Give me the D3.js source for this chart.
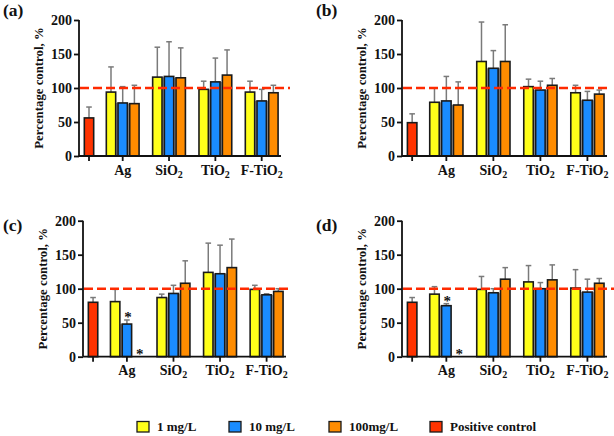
<!DOCTYPE html>
<html><head><meta charset="utf-8">
<script src="https://cdn.jsdelivr.net/npm/d3@7"></script>
<style>
body{margin:0;background:#fff}svg{display:block}
svg text{font-family:"Liberation Serif","Times New Roman",Times,serif !important;font-weight:bold}
</style>
</head><body>
<script>
const groups = ["Ag","SiO2","TiO2","F-TiO2"];
const series = ["1 mg/L","10 mg/L","100mg/L"];
const controlLabel = "Positive control";
const yTicks = [0,50,100,150,200];
const refLine = 100;

const aMeans = [[94,78,77],[116,117,115],[98,109,119],[94,81,93]];
const aSD    = [[37,24,27],[44,51,44],[12,35,37],[16,17,11]];
const aCtrl = 56, aCtrlSD = 16;

const bMeans = [[79,81,75],[139,129,139],[102,97,104],[93,82,91]];
const bSD    = [[21,36,34],[58,26,54],[11,13,10],[11,13,6]];
const bCtrl = 49, bCtrlSD = 13;

const cMeans = [[81,48,0],[87,93,108],[124,122,131],[99,91,96]];
const cSD    = [[18,6,0],[5,12,33],[43,42,42],[6,1.5,4]];
const cCtrl = 80, cCtrlSD = 7;
const cSig = [[0,1],[0,2]];

const dMeans = [[92,75,0],[99,94,114],[110,100,113],[101,95,108]];
const dSD    = [[11,3,0],[19,6,17],[24,9,22],[27,19,7]];
const dCtrl = 80, dCtrlSD = 7;
const dSig = [[0,1],[0,2]];

const colors = ["#ffff1a","#1a8cff","#ff8c00"];
const ctrlColor = "#ff3300";

const svg = d3.select("body").append("svg").attr("width",614).attr("height",436);

const panels = [
  {tag:"(a)", means:aMeans, sd:aSD, ctrl:aCtrl, ctrlSD:aCtrlSD, sig:[], x0:79, x1:281, yb:156, yt:20, lx:3, ly:16, dashEnd:290},
  {tag:"(b)", means:bMeans, sd:bSD, ctrl:bCtrl, ctrlSD:bCtrlSD, sig:[], x0:402, x1:607, yb:156, yt:20, lx:316, ly:16, dashEnd:611},
  {tag:"(c)", means:cMeans, sd:cSD, ctrl:cCtrl, ctrlSD:cCtrlSD, sig:cSig, x0:83, x1:286, yb:356.7, yt:220.7, lx:3, ly:231, dashEnd:290},
  {tag:"(d)", means:dMeans, sd:dSD, ctrl:dCtrl, ctrlSD:dCtrlSD, sig:dSig, x0:402, x1:607, yb:356.7, yt:220.7, lx:316, ly:231, dashEnd:614}
];

const firstGroup = 2.88, groupStep = 3.96, barW = 0.8;
const groupCenter = i => firstGroup + i*groupStep;

panels.forEach(p => {
  const g = svg.append("g");
  const x = d3.scaleLinear().domain([-0.855, 16.41]).range([p.x0, p.x1]);
  const y = d3.scaleLinear().domain([0,200]).range([p.yb, p.yt]);
  const u = x(1) - x(0);
  const bw = barW*u;

  g.append("text").attr("x",p.lx).attr("y",p.ly).attr("font-size",17.5).attr("fill","#111").text(p.tag);

  const bars = [];
  bars.push({cx:x(0), v:p.ctrl, sd:p.ctrlSD, color:ctrlColor, shadow:false});
  p.means.forEach((row,gi) => row.forEach((v,si) => {
    bars.push({cx:x(groupCenter(gi)+(si-1)), v, sd:p.sd[gi][si], color:colors[si],
      shadow: si<2, next: si<2 ? row[si+1] : 0});
  }));

  g.selectAll(".sh").data(bars.filter(b=>b.shadow && b.v>0 && b.next>0)).join("rect")
    .attr("x",d=>d.cx+bw/2).attr("width",u-bw)
    .attr("y",d=>y(Math.min(d.v,d.next))).attr("height",d=>p.yb-y(Math.min(d.v,d.next)))
    .attr("fill","#9a9a9a");

  const eb = bars.filter(b=>b.sd>0);
  g.selectAll(".el").data(eb).join("line")
    .attr("x1",d=>d.cx).attr("x2",d=>d.cx).attr("y1",d=>y(d.v)).attr("y2",d=>y(d.v+d.sd))
    .attr("stroke","#7a7a7a").attr("stroke-width",1.5);
  g.selectAll(".ec").data(eb).join("line")
    .attr("x1",d=>d.cx-2.8).attr("x2",d=>d.cx+2.8).attr("y1",d=>y(d.v+d.sd)).attr("y2",d=>y(d.v+d.sd))
    .attr("stroke","#7a7a7a").attr("stroke-width",1.5);

  g.selectAll(".bar").data(bars.filter(b=>b.v>0)).join("rect")
    .attr("x",d=>d.cx-bw/2).attr("width",bw)
    .attr("y",d=>y(d.v)).attr("height",d=>p.yb-y(d.v))
    .attr("fill",d=>d.color).attr("stroke","#1a1a1a").attr("stroke-width",1.6);

  p.sig.forEach(([gi,si]) => {
    const v = p.means[gi][si] + p.sd[gi][si];
    g.append("text").attr("x",x(groupCenter(gi)+(si-1))+1).attr("y",y(v)+2)
      .attr("text-anchor","middle").attr("font-size",15).attr("fill","#111").text("*");
  });

  const ya = g.append("g").attr("transform",`translate(${p.x0},0)`)
    .call(d3.axisLeft(y).tickValues(yTicks).tickSize(5).tickPadding(2));
  ya.select(".domain").attr("stroke","#111").attr("stroke-width",1.8).attr("d",`M0,${p.yb}V${p.yt}`);
  ya.selectAll(".tick line").attr("stroke","#111").attr("stroke-width",1.8);
  ya.selectAll(".tick text").attr("font-size",14).attr("fill","#111");

  const xa = g.append("g").attr("transform",`translate(0,${p.yb})`);
  xa.append("line").attr("x1",p.x0).attr("x2",p.x1).attr("stroke","#111").attr("stroke-width",1.8);
  const tickPos = [0, ...groups.map((_,i)=>groupCenter(i))];
  xa.selectAll(".xt").data(tickPos).join("line")
    .attr("x1",d=>x(d)).attr("x2",d=>x(d)).attr("y1",0).attr("y2",5)
    .attr("stroke","#111").attr("stroke-width",1.8);
  groups.forEach((name,i) => {
    const t = xa.append("text").attr("x",x(groupCenter(i))).attr("y",18.5)
      .attr("text-anchor","middle").attr("font-size",14).attr("fill","#111");
    const m = name.match(/^(.*?)(\d)$/);
    if (m) {
      t.append("tspan").text(m[1]);
      t.append("tspan").attr("font-size",10).attr("dy",3).text(m[2]);
    } else t.text(name);
  });

  g.append("text").attr("transform",`translate(${p.x0-36},${(p.yb+p.yt)/2}) rotate(-90)`)
    .attr("text-anchor","middle").attr("font-size",12.8).attr("fill","#111")
    .text("Percentage control, %");

  g.append("line").attr("x1",p.x0+1).attr("x2",p.dashEnd).attr("y1",y(refLine)).attr("y2",y(refLine))
    .attr("stroke","#ff2a00").attr("stroke-width",2.4).attr("stroke-dasharray","9,4");
});

const legItems = [
  {label:series[0], color:colors[0], x:137},
  {label:series[1], color:colors[1], x:229},
  {label:series[2], color:colors[2], x:329},
  {label:controlLabel, color:ctrlColor, x:430}
];
const lg = svg.append("g");
legItems.forEach(d => {
  lg.append("rect").attr("x",d.x).attr("y",421.5).attr("width",12).attr("height",10.5)
    .attr("fill",d.color).attr("stroke","#1a1a1a").attr("stroke-width",1.3);
  lg.append("text").attr("x",d.x+20).attr("y",431).attr("font-size",13)
    .attr("fill","#111").text(d.label);
});
</script>
</body></html>
